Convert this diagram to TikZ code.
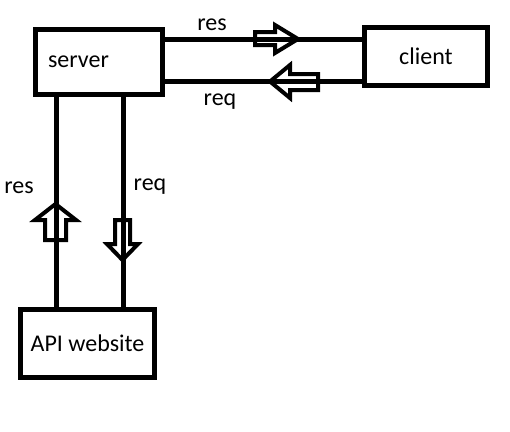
\documentclass[tikz,border=0pt]{standalone}
\usepackage{fontspec}
\setmainfont{Carlito}
\usepackage{tikz}
\usetikzlibrary{positioning}
\usetikzlibrary{calc}

\tikzset{
  box/.style={draw, line width=5pt, inner sep=0pt, font=\fontsize{24}{28}\selectfont},
  wire/.style={line width=5pt},
  lbl/.style={inner sep=0pt, font=\fontsize{24}{28}\selectfont},
  blockarrow/.style={line width=4pt, line join=miter}
}

\begin{document}
\begin{tikzpicture}[x=1pt, y=-1pt]
            \useasboundingbox (0,0) rectangle (510,431);
            \node[box, minimum width=127pt, minimum height=65pt, inner xsep=12.5pt, text width=102pt, align=left] (server) at (99,62) {server};
            \node[box, minimum width=123pt, minimum height=58pt] (client) at (426,56.5) {client};
            \node[box, minimum width=134pt, minimum height=68pt] (api) at (87.5,343.5) {API website};
            % server <-> client
            \draw[wire] ([yshift=-12pt]server.north east) coordinate (resA) -- (resA -| client.west);
            \draw[wire] ([yshift=16pt]server.south east) coordinate (reqA) -- (reqA -| client.west);
            % server <-> API website
            \draw[wire] ([xshift=23pt]server.south west) coordinate (resB) -- (resB |- api.north);
            \draw[wire] ([xshift=90pt]server.south west) coordinate (reqB) -- (reqB |- api.north);
            % hollow arrows
            \draw[blockarrow] (255,32) -- (275,32) -- (275,25) -- (298,39) -- (275,53) -- (275,45) -- (255,45) -- cycle;
            \draw[blockarrow] (318,74) -- (290,74) -- (290,65) -- (270,81.5) -- (290,98) -- (290,90) -- (318,90) -- cycle;
            \draw[blockarrow] (45,240) -- (45,220) -- (35,220) -- (55.5,204) -- (76,220) -- (66,220) -- (66,240) -- cycle;
            \draw[blockarrow] (115,220) -- (130,220) -- (130,244) -- (138,244) -- (122.5,260) -- (107,244) -- (115,244) -- cycle;
            % labels
            \node[lbl, anchor=base] (resTop) at (212,30) {res};
            \node[lbl, anchor=base] (reqBot) at (220,105) {req};
            \node[lbl, anchor=base] (resLeft) at (19,193) {res};
            \node[lbl, anchor=base] (reqRight) at (150,190) {req};
        \end{tikzpicture}
\end{document}
